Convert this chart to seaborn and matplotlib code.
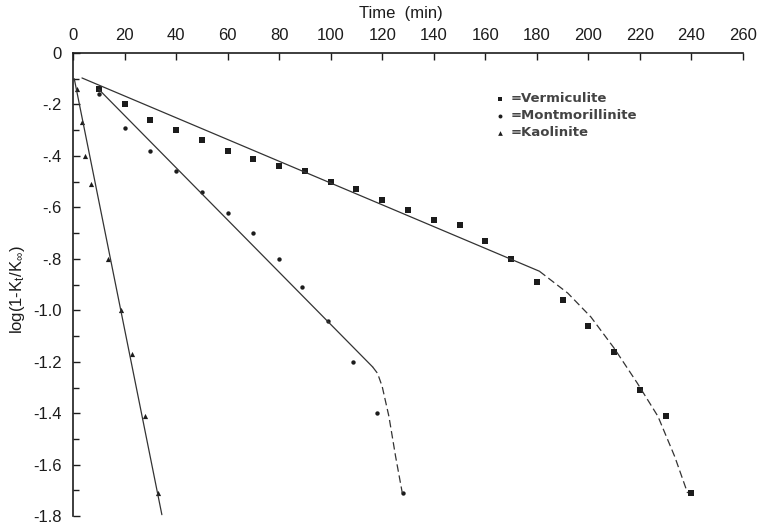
import numpy as np
import pandas as pd
import matplotlib
matplotlib.use("Agg")
import matplotlib.pyplot as plt
import seaborn as sns

# --- measured points (time in min, log(1-Kt/Kinf)) ---
verm_t = [10, 20, 30, 40, 50, 60, 70, 80, 90, 100, 110, 120, 130, 140, 150, 160,
          170, 180, 190, 200, 210, 220, 230, 240]
verm_y = [-0.14, -0.20, -0.26, -0.30, -0.34, -0.38, -0.41, -0.44, -0.46, -0.50,
          -0.53, -0.57, -0.61, -0.65, -0.67, -0.73, -0.80, -0.89, -0.96, -1.06,
          -1.16, -1.31, -1.41, -1.71]

mont_t = [10, 20, 30, 40, 50, 60, 70, 80, 89, 99, 108.5, 118, 128]
mont_y = [-0.16, -0.29, -0.38, -0.46, -0.54, -0.62, -0.70, -0.80, -0.91, -1.04,
          -1.20, -1.40, -1.71]

kaol_t = [1.5, 3.5, 4.5, 7, 13.5, 18.5, 23, 28, 33]
kaol_y = [-0.14, -0.27, -0.40, -0.51, -0.80, -1.00, -1.17, -1.41, -1.71]

# --- fitted lines (solid) and curved tails (dashed) ---
verm_fit_t = [3.5, 181]
verm_fit_y = [-0.097, -0.848]
verm_tail_t = [181, 192, 201, 210, 219, 227, 233.5, 238.5]
verm_tail_y = [-0.848, -0.933, -1.026, -1.147, -1.283, -1.412, -1.568, -1.71]

mont_fit_t = [10, 116.3]
mont_fit_y = [-0.141, -1.22]
mont_tail_t = [116.3, 118.2, 120, 122.6, 125.2, 127.8]
mont_tail_y = [-1.22, -1.245, -1.296, -1.412, -1.568, -1.71]

kaol_fit_t = [0.5, 34.5]
kaol_fit_y = [-0.10, -1.794]

x_ticks = [0, 20, 40, 60, 80, 100, 120, 140, 160, 180, 200, 220, 240, 260]
y_ticks = [0, -0.2, -0.4, -0.6, -0.8, -1.0, -1.2, -1.4, -1.6, -1.8]
y_tick_labels = ["0", "-.2", "-.4", "-.6", "-.8", "-1.0", "-1.2", "-1.4", "-1.6", "-1.8"]

sns.set_style("ticks")
plt.rcParams["font.family"] = ["Liberation Sans", "DejaVu Sans"]
plt.rcParams["mathtext.fontset"] = "custom"
plt.rcParams["mathtext.rm"] = "Liberation Sans"
plt.rcParams["mathtext.it"] = "Liberation Sans"

ink = "#1c1c1c"

fig = plt.figure(figsize=(7.64, 5.30), dpi=100)
ax = fig.add_axes([0.0955, 0.026, 0.877, 0.874])

# lines
line_kw = dict(color="#333333", lw=0.9, estimator=None, sort=False, legend=False)
sns.lineplot(x=verm_fit_t, y=verm_fit_y, ax=ax, **line_kw)
sns.lineplot(x=mont_fit_t, y=mont_fit_y, ax=ax, **line_kw)
sns.lineplot(x=kaol_fit_t, y=kaol_fit_y, ax=ax, **line_kw)
sns.lineplot(x=verm_tail_t, y=verm_tail_y, ax=ax, **line_kw)
sns.lineplot(x=mont_tail_t, y=mont_tail_y, ax=ax, **line_kw)
for l in ax.lines[3:]:
    l.set_linestyle((0, (6, 3)))

# points
df = pd.concat([
    pd.DataFrame({"t": verm_t, "y": verm_y, "mineral": "=Vermiculite"}),
    pd.DataFrame({"t": mont_t, "y": mont_y, "mineral": "=Montmorillinite"}),
    pd.DataFrame({"t": kaol_t, "y": kaol_y, "mineral": "=Kaolinite"}),
])
sns.scatterplot(data=df[df.mineral == "=Vermiculite"], x="t", y="y", marker="s",
                s=15, color=ink, edgecolor=ink, linewidth=0, ax=ax, label="=Vermiculite")
sns.scatterplot(data=df[df.mineral == "=Montmorillinite"], x="t", y="y", marker="o",
                s=10, color=ink, edgecolor=ink, linewidth=0, ax=ax, label="=Montmorillinite")
sns.scatterplot(data=df[df.mineral == "=Kaolinite"], x="t", y="y", marker="^",
                s=14, color=ink, edgecolor=ink, linewidth=0, ax=ax, label="=Kaolinite")

ax.set_xlim(0, 260)
ax.set_ylim(-1.8, 0)

ax.xaxis.tick_top()
ax.xaxis.set_label_position("top")
ax.set_xticks(x_ticks)
ax.set_yticks(y_ticks)
ax.set_yticklabels(y_tick_labels)
ax.set_yticks(np.arange(-1.7, 0, 0.2), minor=True)
ax.tick_params(axis="x", which="major", direction="in", length=5, width=1,
               labelsize=12, pad=7, colors=ink)
ax.tick_params(axis="y", which="major", direction="in", length=5, width=1,
               labelsize=12, pad=8, colors=ink)
ax.tick_params(axis="y", which="minor", direction="in", length=4, width=1, colors=ink)

for side in ["bottom", "right"]:
    ax.spines[side].set_visible(False)
for side in ["top", "left"]:
    ax.spines[side].set_linewidth(1.2)
    ax.spines[side].set_color(ink)

ax.set_xlabel("Time  (min)", fontsize=12, color=ink)
ax.xaxis.set_label_coords(0.49, 1.075)
ax.set_ylabel(r"log(1-K$_{\mathrm{t}}$/K$_{\infty}$)", fontsize=12, color=ink)
ax.yaxis.set_label_coords(-0.068, 0.49)

leg = ax.legend(loc="upper left", bbox_to_anchor=(0.627, 0.915), frameon=False,
                borderaxespad=0, borderpad=0,
                handletextpad=0.3, handlelength=1.0, labelspacing=0.3,
                markerscale=0.9,
                prop={"size": 9.5, "weight": "bold", "family": "DejaVu Sans"})
for t in leg.get_texts():
    t.set_color("#444444")

fig.savefig("out.png", dpi=100)
